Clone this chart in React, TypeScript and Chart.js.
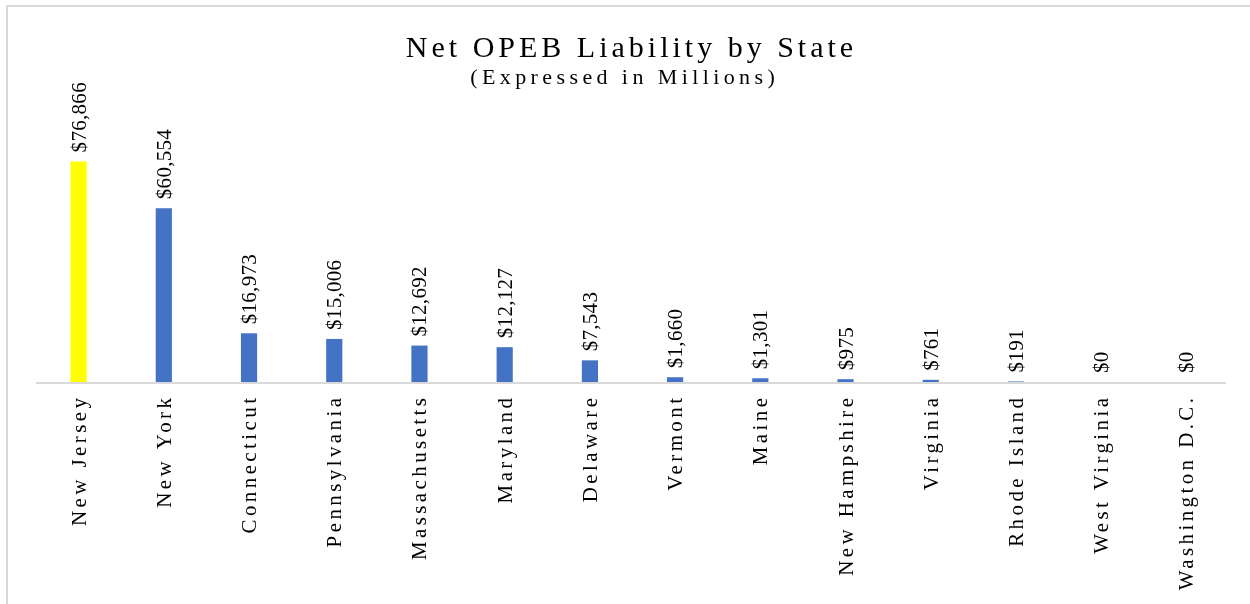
import React, { useEffect, useRef } from "react";
import { Chart, registerables } from "chart.js";

Chart.register(...registerables);

const states: string[] = [
  "New Jersey",
  "New York",
  "Connecticut",
  "Pennsylvania",
  "Massachusetts",
  "Maryland",
  "Delaware",
  "Vermont",
  "Maine",
  "New Hampshire",
  "Virginia",
  "Rhode Island",
  "West Virginia",
  "Washington D.C.",
];

const liabilities: number[] = [
  76866, 60554, 16973, 15006, 12692, 12127, 7543, 1660, 1301, 975, 761, 191, 0, 0,
];

const valueLabels: string[] = [
  "$76,866", "$60,554", "$16,973", "$15,006", "$12,692", "$12,127", "$7,543",
  "$1,660", "$1,301", "$975", "$761", "$191", "$0", "$0",
];

const barColors: string[] = [
  "#FFFF00", "#4472C4", "#4472C4", "#4472C4", "#4472C4", "#4472C4", "#4472C4",
  "#4472C4", "#4472C4", "#4472C4", "#4472C4", "#4472C4", "#4472C4", "#4472C4",
];

const titleText = "Net OPEB Liability by State";
const subtitleText = "(Expressed in Millions)";

const SERIF = "'Liberation Serif', 'DejaVu Serif', serif";

function setSpaced(
  ctx: CanvasRenderingContext2D,
  text: string,
  font: string,
  spacing: number
): number {
  ctx.font = font;
  (ctx as any).letterSpacing = spacing + "px";
  return ctx.measureText(text).width;
}

const customPlugin = {
  id: "customDraw",
  afterDatasetsDraw(chart: any) {
    const ctx: CanvasRenderingContext2D = chart.ctx;
    const area = chart.chartArea;
    const meta = chart.getDatasetMeta(0);
    ctx.save();

    // frame lines (left & top)
    ctx.fillStyle = "#d9d9d9";
    ctx.fillRect(6, 5, 2, 604);
    ctx.fillRect(6, 5, 1250, 2);

    // baseline
    const y0 = chart.scales.y.getPixelForValue(0);
    ctx.fillStyle = "#d9d9d9";
    ctx.fillRect(area.left, y0, area.right - area.left - 3, 2);

    // title
    ctx.fillStyle = "#000";
    ctx.textBaseline = "alphabetic";
    ctx.textAlign = "left";
    let sp = 4;
    let w = setSpaced(ctx, titleText, "30px " + SERIF, sp);
    ctx.fillText(titleText, 629.5 - (w - sp) / 2, 57);
    sp = 4.4;
    w = setSpaced(ctx, subtitleText, "22px " + SERIF, sp);
    ctx.fillText(subtitleText, 622.5 - (w - sp) / 2, 84);

    // data labels
    meta.data.forEach((bar: any, i: number) => {
      setSpaced(ctx, valueLabels[i], "21px " + SERIF, 0.3);
      ctx.save();
      ctx.translate(bar.x + 7, bar.y - 9);
      ctx.rotate(-Math.PI / 2);
      ctx.textAlign = "left";
      ctx.textBaseline = "alphabetic";
      ctx.fillText(valueLabels[i], 0, 0);
      ctx.restore();
    });

    // category labels
    meta.data.forEach((bar: any, i: number) => {
      const s = 3.4;
      const lw = setSpaced(ctx, states[i], "21px " + SERIF, s) - s;
      ctx.save();
      ctx.translate(bar.x + 7, 398 + lw);
      ctx.rotate(-Math.PI / 2);
      ctx.textAlign = "left";
      ctx.textBaseline = "alphabetic";
      ctx.fillText(states[i], 0, 0);
      ctx.restore();
    });

    (ctx as any).letterSpacing = "0px";
    ctx.restore();
  },
};

export default function App() {
  const canvasRef = useRef<HTMLCanvasElement | null>(null);

  useEffect(() => {
    if (!canvasRef.current) return;
    const chart = new Chart(canvasRef.current, {
      type: "bar",
      data: {
        labels: states,
        datasets: [
          {
            data: liabilities,
            backgroundColor: barColors,
            borderWidth: 0,
            barPercentage: 0.19,
            categoryPercentage: 1,
          },
        ],
      },
      options: {
        animation: false,
        responsive: false,
        devicePixelRatio: 1,
        layout: { padding: { left: 36, right: 21, top: 95, bottom: 222 } },
        plugins: {
          legend: { display: false },
          title: { display: false },
          tooltip: { enabled: false },
        },
        scales: {
          x: { display: false, offset: true },
          y: { display: false, min: 0, max: 100000 },
        },
      },
      plugins: [customPlugin],
    });
    return () => chart.destroy();
  }, []);

  return (
    <div style={{ position: "fixed", left: 0, top: 0, width: 1250, height: 604, background: "#fff" }}>
      <canvas ref={canvasRef} width={1250} height={604} style={{ width: 1250, height: 604, display: "block" }} />
    </div>
  );
}
